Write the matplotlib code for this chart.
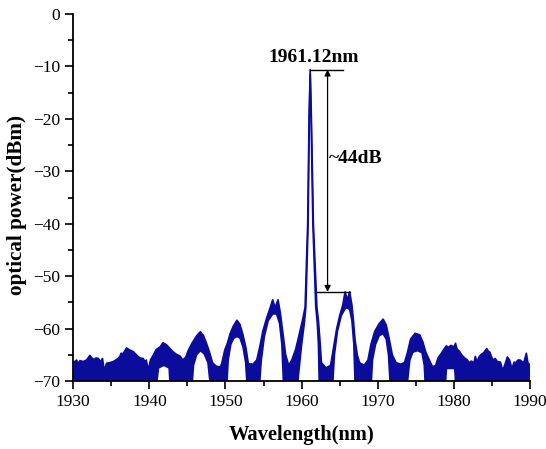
import numpy as np
import matplotlib
matplotlib.use("Agg")
import matplotlib.pyplot as plt
from matplotlib.ticker import MultipleLocator

# upper edge of the noisy spectrum trace (nm, dBm)
wl_upper = [1930.0, 1930.1, 1930.2, 1930.45, 1930.65, 1930.9, 1931.3, 1931.75, 1932.2, 1932.4,
            1932.7, 1933.0, 1933.3, 1933.6, 1933.85, 1934.07, 1934.4, 1934.8, 1935.25, 1935.7,
            1936.1, 1936.3, 1936.55, 1937.0, 1937.45, 1937.9, 1938.3, 1938.75, 1939.2, 1939.4,
            1939.6, 1939.85, 1940.15, 1940.5, 1940.9, 1941.4, 1941.8, 1942.25, 1942.7, 1943.1,
            1943.55, 1944.0, 1944.4, 1944.8, 1945.1, 1945.6, 1946.2, 1946.5, 1946.7, 1946.9,
            1947.1, 1947.5, 1947.9, 1948.3, 1948.8, 1949.3, 1949.5, 1949.9, 1950.25, 1950.6,
            1951.0, 1951.5, 1951.9, 1952.3, 1952.7, 1953.0, 1953.6, 1954.1, 1954.5, 1954.9,
            1955.4, 1955.8, 1956.2, 1956.5, 1956.9, 1957.2, 1957.6, 1957.9, 1958.3, 1958.7,
            1959.2, 1959.6, 1960.2, 1960.45, 1960.79, 1960.97, 1961.12, 1961.28, 1961.54, 1962.0,
            1962.2, 1962.4, 1962.6, 1963.2, 1963.8, 1964.2, 1964.6, 1965.0, 1965.4, 1965.7,
            1966.0, 1966.3, 1966.6, 1966.8, 1967.0, 1967.3, 1967.6, 1968.2, 1968.7, 1969.1,
            1969.6, 1970.2, 1970.7, 1971.1, 1971.5, 1971.9, 1972.4, 1973.0, 1973.5, 1973.9,
            1974.3, 1974.9, 1975.5, 1975.9, 1976.3, 1976.7, 1977.2, 1977.6, 1977.9, 1978.3,
            1978.6, 1979.0, 1979.3, 1979.6, 1980.0, 1980.2, 1980.4, 1980.7, 1981.0, 1981.4,
            1981.7, 1982.0, 1982.3, 1982.6, 1982.8, 1983.0, 1983.3, 1983.5, 1983.9, 1984.3,
            1984.5, 1984.7, 1985.1, 1985.4, 1985.7, 1986.1, 1986.4, 1986.7, 1987.0, 1987.3,
            1987.6, 1987.9, 1988.1, 1988.4, 1988.7, 1989.0, 1989.2, 1989.5, 1989.7, 1990.0]
p_upper = [-70.0, -66.5, -66.3, -66.0, -66.7, -66.1, -66.3, -66.0, -65.1, -65.5,
           -65.9, -65.6, -65.7, -66.3, -65.7, -67.9, -66.6, -66.5, -66.3, -65.9,
           -65.4, -64.7, -64.8, -63.7, -64.1, -64.4, -65.0, -65.6, -65.7, -66.3,
           -66.0, -67.9, -66.0, -65.1, -64.0, -63.5, -62.7, -63.1, -63.8, -64.4,
           -64.9, -65.2, -66.0, -65.4, -64.2, -62.8, -61.4, -60.9, -60.6, -61.0,
           -61.3, -62.8, -64.5, -66.5, -67.2, -67.3, -66.7, -64.1, -62.8, -61.0,
           -59.6, -58.4, -59.2, -61.2, -63.8, -66.7, -66.8, -66.0, -63.5, -60.5,
           -58.0, -56.3, -54.5, -56.0, -54.5, -57.0, -61.5, -65.0, -67.0, -66.0,
           -64.0, -61.6, -57.8, -55.9, -40.0, -20.0, -10.6, -20.0, -40.0, -55.9,
           -58.4, -62.2, -66.5, -67.5, -67.0, -63.5, -60.0, -57.5, -55.5, -53.0,
           -54.5, -53.0, -55.5, -58.5, -62.0, -65.0, -66.5, -67.0, -66.0, -63.0,
           -60.5, -59.0, -58.2, -59.3, -62.0, -65.0, -66.5, -66.8, -66.5, -64.5,
           -62.0, -60.9, -61.2, -62.5, -64.5, -65.8, -67.3, -67.0, -65.6, -64.8,
           -64.1, -63.3, -63.6, -63.2, -63.5, -62.8, -63.9, -64.3, -65.0, -65.6,
           -65.9, -66.5, -66.2, -66.6, -65.3, -66.3, -65.4, -65.0, -64.6, -63.8,
           -64.3, -64.5, -66.0, -65.7, -66.3, -66.4, -68.0, -66.8, -65.4, -66.0,
           -67.6, -66.4, -66.5, -66.0, -66.0, -66.4, -66.3, -64.7, -66.5, -67.0]

# lower edge of the trace
wl_lower = [1930.0, 1941.0, 1941.2, 1941.9, 1942.6, 1942.7, 1945.65, 1945.8, 1946.2, 1946.7,
            1947.2, 1947.7, 1947.95, 1950.2, 1950.35, 1950.7, 1951.1, 1951.5, 1951.9, 1952.3,
            1952.65, 1952.8, 1954.5, 1954.7, 1955.1, 1955.6, 1956.2, 1956.7, 1957.1, 1957.4,
            1957.6, 1959.5, 1960.0, 1960.35, 1960.55, 1960.85, 1961.0, 1961.12, 1961.24, 1961.47,
            1961.85, 1962.05, 1962.2, 1962.3, 1964.1, 1964.3, 1964.7, 1965.2, 1965.8, 1966.3,
            1966.6, 1966.85, 1967.0, 1969.15, 1969.3, 1969.7, 1970.2, 1970.7, 1971.1, 1971.4,
            1971.6, 1973.9, 1974.2, 1974.6, 1975.2, 1975.8, 1976.1, 1976.2, 1978.9, 1979.0,
            1980.1, 1980.2, 1990.0]
p_lower = [-70.0, -70.0, -67.5, -67.0, -67.5, -70.0, -70.0, -67.0, -65.0, -64.2,
           -64.8, -66.5, -70.0, -70.0, -66.0, -63.0, -61.8, -61.5, -61.8, -63.5,
           -66.5, -70.0, -70.0, -66.0, -61.5, -58.5, -57.2, -57.2, -59.0, -63.0,
           -70.0, -70.0, -63.0, -59.0, -55.9, -40.0, -20.0, -11.5, -20.0, -40.0,
           -55.9, -59.0, -63.0, -70.0, -70.0, -65.0, -60.5, -57.5, -56.0, -56.3,
           -58.5, -63.0, -70.0, -70.0, -66.0, -63.0, -61.3, -61.0, -62.0, -65.0,
           -70.0, -70.0, -66.0, -64.5, -64.2, -64.6, -67.0, -70.0, -70.0, -67.6,
           -67.6, -70.0, -70.0]

peak_wl = 1961.12
peak_p = -10.6
side_p = -53.0

blue = "#0b0b9c"
plt.rcParams["font.family"] = ["Liberation Serif", "DejaVu Serif"]

fig = plt.figure(figsize=(5.46, 4.49), dpi=100)
ax = fig.add_axes([0.134, 0.1514, 0.837, 0.8174])

ax.fill(np.concatenate([wl_upper, wl_lower[::-1]]),
        np.concatenate([p_upper, p_lower[::-1]]), color=blue, lw=0)
ax.plot(wl_upper, p_upper, color=blue, lw=1.2)
ax.plot(wl_lower, p_lower, color=blue, lw=1.2)

# side mode suppression annotation
ax.plot([peak_wl, 1965.4], [peak_p, peak_p], color="black", lw=1)
ax.plot([1962.0, 1966.35], [side_p, side_p], color="black", lw=1)
ax.annotate("", xy=(1963.4, peak_p), xytext=(1963.4, side_p),
            arrowprops=dict(arrowstyle="<|-|>", color="black", lw=0.9,
                            mutation_scale=9, shrinkA=0, shrinkB=0))
ax.text(1961.63, -8.3, "%.2fnm" % peak_wl, ha="center", va="center",
        fontsize=14, fontweight="bold")
ax.text(1963.6, -27.5, "~44dB", ha="left", va="center", fontsize=14, fontweight="bold")

ax.set_xlim(1930, 1990)
ax.set_ylim(-70, 0)
ax.xaxis.set_major_locator(MultipleLocator(10))
ax.xaxis.set_minor_locator(MultipleLocator(5))
ax.yaxis.set_major_locator(MultipleLocator(10))
ax.yaxis.set_minor_locator(MultipleLocator(5))
ax.tick_params(which="major", direction="out", length=6, width=1.2, labelsize=12.5)
ax.tick_params(which="minor", direction="out", length=3.5, width=1.2)
ax.spines["top"].set_visible(False)
ax.spines["right"].set_visible(False)
ax.spines["left"].set_linewidth(1.3)
ax.spines["bottom"].set_linewidth(1.3)

ax.set_xlabel("Wavelength(nm)", fontsize=14.8, fontweight="bold", labelpad=11)
ax.set_ylabel("optical power(dBm)", fontsize=15.2, fontweight="bold")
ax.yaxis.set_label_coords(-0.10, 0.48)

fig.savefig("out.png", dpi=100)
